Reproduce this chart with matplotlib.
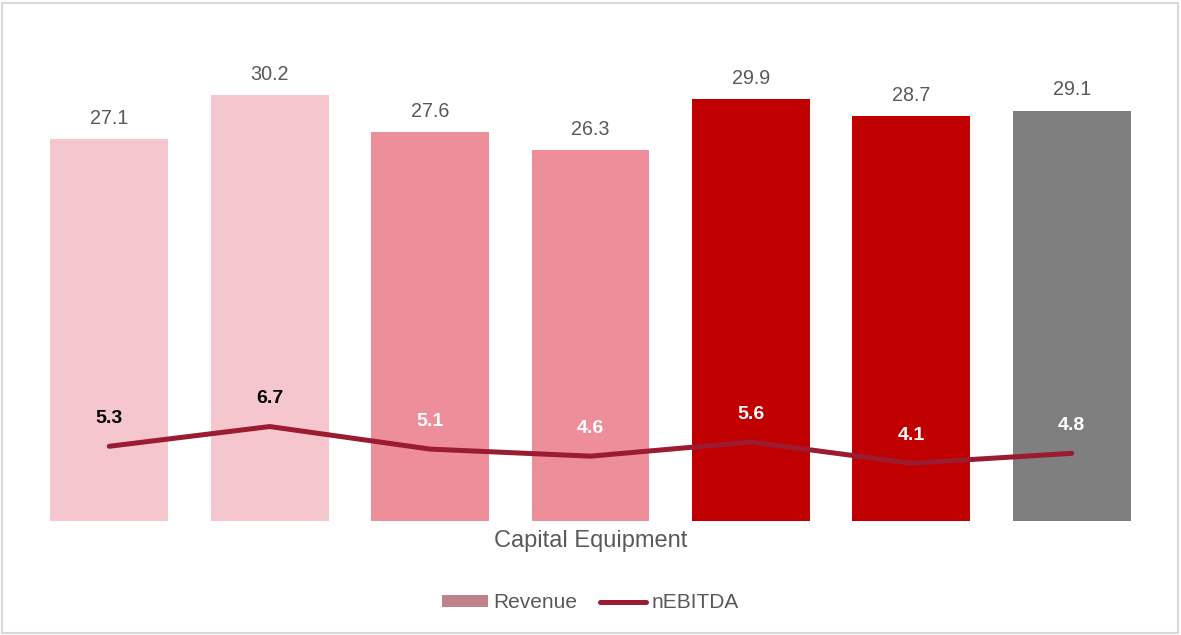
import matplotlib
matplotlib.use("Agg")
import matplotlib.pyplot as plt
import matplotlib.patches as patches
from matplotlib.lines import Line2D
import numpy as np

plt.rcParams['font.family'] = ['Liberation Sans', 'DejaVu Sans']

# 데이터
revenue = [27.1, 30.2, 27.6, 26.3, 29.9, 28.7, 29.1]
nebitda = [5.3, 6.7, 5.1, 4.6, 5.6, 4.1, 4.8]
bar_colors = ['#F6C6CF', '#F6C6CF', '#EE8E9A', '#EE8E9A', '#C00000', '#C00000', '#7F7F7F']
line_label_colors = ['#000000', '#000000', '#FFFFFF', '#FFFFFF', '#FFFFFF', '#FFFFFF', '#FFFFFF']
category = 'Capital Equipment'

LINE_COLOR = '#9B1B30'
TEXT_GRAY = '#595959'

fig = plt.figure(figsize=(11.81, 6.35), dpi=100)
ax = fig.add_axes([0.0246, 0.1795, 0.9508, 0.7772])

x = np.arange(len(revenue))
bars = ax.bar(x, revenue, width=0.735, color=bar_colors, zorder=1)

for xi, v in zip(x, revenue):
    ax.annotate(f"{v:.1f}", (xi, v), xytext=(0, 15), textcoords='offset points',
                ha='center', va='center', fontsize=14.2, color=TEXT_GRAY)

ax.plot(x, nebitda, color=LINE_COLOR, linewidth=3.6, solid_capstyle='round',
        solid_joinstyle='round', zorder=2)

for xi, v, c in zip(x, nebitda, line_label_colors):
    ax.annotate(f"{v:.1f}", (xi, v), xytext=(0, 20), textcoords='offset points',
                ha='center', va='center', fontsize=14, fontweight='bold', color=c)

ax.set_xlim(-0.5, len(revenue) - 0.5)
ax.set_ylim(0, 35)
ax.axis('off')

fig.text(0.5, (635 - 541) / 635, category, ha='center', va='center',
         fontsize=17, color=TEXT_GRAY)

# 범례
handles = [
    patches.Patch(facecolor='#C0828A', edgecolor='none'),
    Line2D([0], [0], color=LINE_COLOR, linewidth=3.6, solid_capstyle='round'),
]
fig.legend(handles, ['Revenue', 'nEBITDA'], loc='center',
           bbox_to_anchor=(0.5, (635 - 603) / 635), ncol=2, frameon=False,
           fontsize=15, labelcolor=TEXT_GRAY, handlelength=2.2, handleheight=0.5,
           handletextpad=0.25, columnspacing=1.1)

# 바깥 테두리
border = patches.Rectangle((2 / 1181, 2 / 635), 1 - 5 / 1181, 1 - 5 / 635,
                           transform=fig.transFigure, fill=False,
                           edgecolor='#D9D9D9', linewidth=1.5)
fig.patches.append(border)

fig.savefig('out.png', dpi=100, facecolor='white')
plt.close(fig)
